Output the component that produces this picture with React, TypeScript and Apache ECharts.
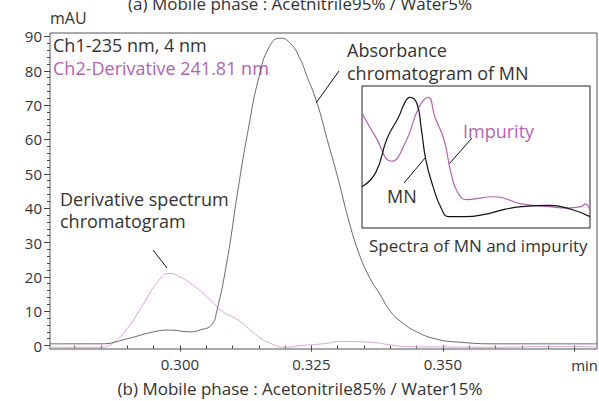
import { useEffect, useRef } from "react";
import * as echarts from "echarts";

// main chromatogram (time in min, mAU)
const absorbance: [number, number][] = [
  [0.2753, 0.5], [0.285, 0.5], [0.29, 2], [0.295, 4], [0.298, 4.5], [0.302, 4], [0.304, 4.6],
  [0.306, 6], [0.307, 10], [0.309, 25], [0.311, 45], [0.313, 63], [0.315, 78], [0.317, 87],
  [0.319, 89.5], [0.321, 88], [0.323, 83], [0.324, 79], [0.326, 71], [0.328, 60], [0.33, 49],
  [0.332, 37], [0.334, 27], [0.336, 20], [0.338, 15], [0.34, 10], [0.342, 7], [0.345, 4],
  [0.349, 1.8], [0.353, 1], [0.36, 0.5], [0.3793, 0.5],
];
const derivative: [number, number][] = [
  [0.2753, -0.5], [0.285, -0.5], [0.287, 0.5], [0.29, 5], [0.293, 12], [0.296, 19], [0.298, 21],
  [0.3, 20], [0.303, 17], [0.306, 13], [0.308, 10], [0.311, 7.5], [0.313, 5], [0.315, 2.5],
  [0.317, 0.8], [0.32, -0.5], [0.323, 0], [0.327, 0.5], [0.331, 1.2], [0.336, 1], [0.34, 0.2],
  [0.343, -0.3], [0.35, -0.4], [0.36, -0.5], [0.37, -0.3], [0.3793, -0.4],
];
// inset spectra (relative units 0..100)
const specMN: [number, number][] = [
  [0, 29], [6, 39], [11, 63], [16, 78], [19, 89], [21, 92], [24, 88], [26, 70], [28, 48],
  [31, 30], [35, 13], [38, 8], [45, 8], [55, 10], [62, 13], [70, 15], [82, 16], [92, 13], [100, 8],
];
const specImp: [number, number][] = [
  [0, 81], [6, 64], [13, 47], [19, 60], [25, 85], [29, 92], [32, 78], [36, 62], [39, 39],
  [42, 25], [46, 20], [58, 22], [70, 17], [82, 15], [90, 14], [96, 15], [98, 17], [100, 12],
];
const yMajor = [0, 10, 20, 30, 40, 50, 60, 70, 80, 90];
const yMinor = Array.from({ length: 46 }, (_, i) => i * 2);
const xMajor = [0.3, 0.325, 0.35, 0.375];
const xMinor = Array.from({ length: 21 }, (_, i) => +(0.28 + i * 0.005).toFixed(3));

const FONT = "Open Sans";
const INK = "#333";
const PINK = "#b462b4";

export default function App() {
  const ref = useRef<HTMLDivElement>(null);
  useEffect(() => {
    if (!ref.current) return;
    const chart = echarts.init(ref.current, undefined, { renderer: "svg" });
    const txt = (x: number, y: number, text: string, fill = INK, size = 18, align = "left") => ({
      type: "text", x, y, style: { text, fill, font: `${size}px "${FONT}"`, align, verticalAlign: "middle" },
    });
    const ln = (x1: number, y1: number, x2: number, y2: number) => ({
      type: "line", shape: { x1, y1, x2, y2 }, style: { stroke: "#111", lineWidth: 1 },
    });
    chart.setOption({
      animation: false,
      textStyle: { fontFamily: FONT },
      grid: [
        { left: 50, right: 2, top: 33, bottom: 52, show: true, borderColor: "#555", borderWidth: 1 },
        { left: 362, width: 228, top: 86, height: 142, show: true, borderColor: "#222", borderWidth: 1, backgroundColor: "#fff" },
      ],
      xAxis: [
        {
          type: "value", gridIndex: 0, min: 0.2753, max: 0.3793,
          axisLine: { show: false }, splitLine: { show: false },
          axisTick: { customValues: xMajor, length: 6, lineStyle: { color: "#444" } },
          axisLabel: { customValues: [0.3, 0.325, 0.35], formatter: (v: number) => v.toFixed(3), color: INK, fontSize: 15, margin: 7 },
        },
        {
          type: "value", gridIndex: 0, min: 0.2753, max: 0.3793, position: "bottom",
          axisLine: { show: false }, splitLine: { show: false }, axisLabel: { show: false },
          axisTick: { customValues: xMinor, length: 3, lineStyle: { color: "#444" } },
        },
        { type: "value", gridIndex: 1, min: 0, max: 100, show: false },
      ],
      yAxis: [
        {
          type: "value", gridIndex: 0, min: -1, max: 91,
          axisLine: { show: false }, splitLine: { show: false },
          axisTick: { customValues: yMajor, length: 6, lineStyle: { color: "#444" } },
          axisLabel: { customValues: yMajor, color: INK, fontSize: 15, margin: 8 },
        },
        {
          type: "value", gridIndex: 0, min: -1, max: 91, position: "left",
          axisLine: { show: false }, splitLine: { show: false }, axisLabel: { show: false },
          axisTick: { customValues: yMinor, length: 3, lineStyle: { color: "#444" } },
        },
        { type: "value", gridIndex: 1, min: 0, max: 100, show: false },
      ],
      series: [
        { type: "line", xAxisIndex: 0, yAxisIndex: 0, data: derivative, smooth: true, showSymbol: false, lineStyle: { color: "#d9a3d9", width: 1 } },
        { type: "line", xAxisIndex: 0, yAxisIndex: 0, data: absorbance, smooth: true, showSymbol: false, lineStyle: { color: "#444", width: 0.8 } },
        { type: "line", xAxisIndex: 2, yAxisIndex: 2, data: specImp, smooth: true, showSymbol: false, lineStyle: { color: PINK, width: 1.2 } },
        { type: "line", xAxisIndex: 2, yAxisIndex: 2, data: specMN, smooth: true, showSymbol: false, lineStyle: { color: "#111", width: 1.2 } },
      ],
      graphic: [
        txt(300, 3, "(a) Mobile phase : Acetnitrile95% / Water5%", INK, 17, "center"),
        txt(50, 18, "mAU", INK, 16),
        txt(53, 45, "Ch1-235 nm, 4 nm"),
        txt(53, 68, "Ch2-Derivative 241.81 nm", PINK),
        txt(347, 50, "Absorbance"),
        txt(347, 73, "chromatogram of MN"),
        ln(339, 71, 316, 103),
        txt(60, 199, "Derivative spectrum"),
        txt(60, 221, "chromatogram"),
        ln(153, 250, 167, 268),
        txt(463, 131, "Impurity", PINK),
        ln(472, 138, 449, 164),
        txt(387, 196, "MN"),
        ln(404, 183, 425, 158),
        txt(369, 245, "Spectra of MN and impurity", INK, 17),
        txt(598, 365, "min", INK, 15, "right"),
        txt(300, 388, "(b) Mobile phase : Acetonitrile85% / Water15%", INK, 17, "center"),
      ],
    });
    return () => chart.dispose();
  }, []);
  return <div ref={ref} style={{ position: "fixed", left: 0, top: 0, width: 599, height: 401, background: "#fff" }} />;
}
